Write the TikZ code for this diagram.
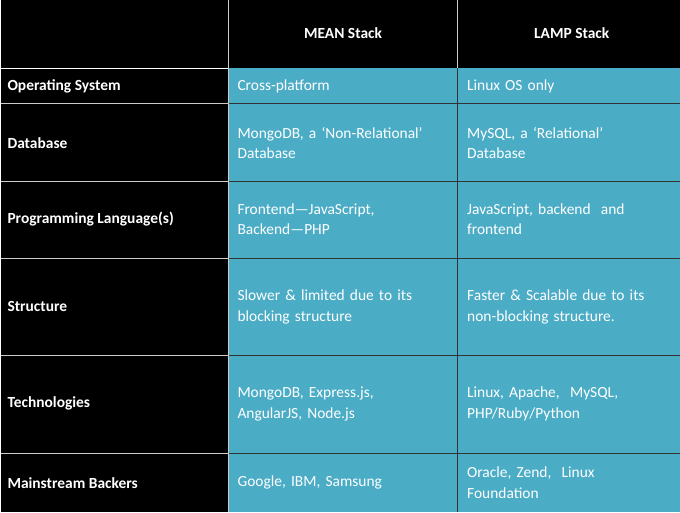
\documentclass[tikz,border=0pt]{standalone}
\usepackage{fontspec}
\setmainfont{Carlito}
\definecolor{cellteal}{HTML}{4BACC6}
\tikzset{
  headtext/.style = {text = white, font = \fontsize{11}{13}\selectfont\bfseries, anchor = center},
  rowtext/.style = {text = white, font = \fontsize{11}{13}\selectfont\bfseries, anchor = west},
  celltext/.style = {text = white, font = \fontsize{11}{14.5}\selectfont, anchor = west, align = left, text width = 5.3cm, inner sep = 0pt}
}
\begin{document}
\begin{tikzpicture}[x = 0.025cm, y = -0.025cm]
	% Background and teal body
	\fill[black] (0, 0) rectangle (680, 512);
	\fill[cellteal] (228, 68) rectangle (680, 512);

	% Grid lines of the body
	\foreach \yy in {103, 181, 258, 356, 454} {
		\draw[black!80, line width = 0.6pt] (228, \yy) -- (680, \yy);
		\draw[white!80!black, line width = 0.6pt] (0, \yy) -- (228, \yy);
	}
	\draw[black!80, line width = 0.6pt] (458, 68) -- (458, 512);
	\draw[white!80!black, line width = 0.6pt] (228, 0) -- (228, 512);
	\draw[white!80!black, line width = 0.6pt] (458, 0) -- (458, 68);
	\draw[white, line width = 0.8pt] (0, 68) -- (228, 68);

	% Header
	\node[headtext] (mean) at (343, 33) {MEAN Stack};
	\node[headtext] (lamp) at (572, 33) {LAMP Stack};

	% Row labels
	\node[rowtext] (os) at (2, 86) {Operating System};
	\node[rowtext] (db) at (2, 143) {Database};
	\node[rowtext] (pl) at (2, 219) {Programming Language(s)};
	\node[rowtext] (st) at (2, 307) {Structure};
	\node[rowtext] (te) at (2, 404) {Technologies};
	\node[rowtext] (mb) at (2, 483) {Mainstream Backers};

	% MEAN cells
	\node[celltext] (meanos) at (237, 86) {Cross-platform};
	\node[celltext] (meandb) at (237, 143) {MongoDB, a ‘Non-Relational’\\Database};
	\node[celltext] (meanpl) at (237, 219) {Frontend—JavaScript,\\Backend—PHP};
	\node[celltext] (meanst) at (237, 307) {Slower \& limited due to its\\blocking structure};
	\node[celltext] (meante) at (237, 404) {MongoDB, Express.js,\\AngularJS, Node.js};
	\node[celltext] (meanmb) at (237, 483) {Google, IBM, Samsung};

	% LAMP cells
	\node[celltext] (lampos) at (467, 86) {Linux OS only};
	\node[celltext] (lampdb) at (467, 143) {MySQL, a ‘Relational’\\Database};
	\node[celltext] (lamppl) at (467, 219) {JavaScript, backend\ \ and\\frontend};
	\node[celltext] (lampst) at (467, 307) {Faster \& Scalable due to its\\non-blocking structure.};
	\node[celltext] (lampte) at (467, 404) {Linux, Apache,\ \ MySQL,\\PHP/Ruby/Python};
	\node[celltext] (lampmb) at (467, 483) {Oracle, Zend,\ \ Linux\\Foundation};
\end{tikzpicture}
\end{document}
